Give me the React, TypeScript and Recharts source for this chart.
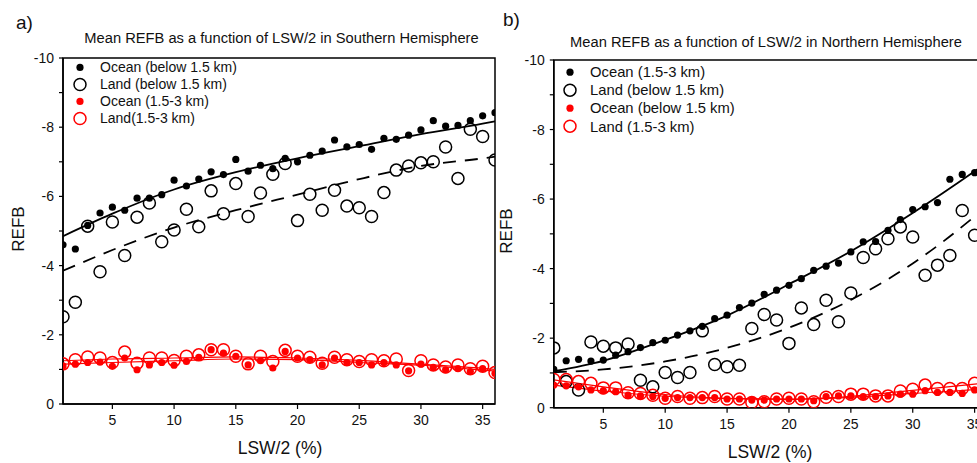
import React from 'react';
import { ComposedChart, Scatter, Line, XAxis, YAxis, Legend, ReferenceArea } from 'recharts';

const FONT = '"Liberation Sans", Arial, sans-serif';

// LSW/2 (%) bins
const lsw = [1, 2, 3, 4, 5, 6, 7, 8, 9, 10, 11, 12, 13, 14, 15, 16, 17, 18, 19, 20, 21, 22, 23, 24, 25, 26, 27, 28, 29, 30, 31, 32, 33, 34, 35, 36];
// x positions where the fitted curves were read
const fitX = [1, 5, 10, 15, 20, 25, 30, 35, 36];

const xTicks = [5, 10, 15, 20, 25, 30, 35];
const yTicks = [-10, -9, -8, -7, -6, -5, -4, -3, -2, -1, 0];

// a) Southern Hemisphere
const shOceanLow = [-4.6, -4.48, -5.16, -5.52, -5.69, -5.6, -5.95, -5.95, -6.05, -6.47, -6.3, -6.5, -6.71, -6.63, -7.07, -6.73, -6.9, -6.8, -7.1, -7.0, -7.19, -7.31, -7.63, -7.43, -7.5, -7.36, -7.68, -7.65, -7.77, -7.92, -8.19, -8.03, -8.05, -8.19, -8.33, -8.42];
const shLandLow = [-2.52, -2.94, -5.14, -3.82, -5.26, -4.29, -5.4, -5.81, -4.69, -5.03, -5.63, -5.12, -6.16, -5.5, -6.37, -5.42, -6.1, -6.64, -6.95, -5.3, -6.06, -5.6, -6.18, -5.72, -5.67, -5.42, -6.11, -6.76, -6.88, -6.97, -7.0, -7.43, -6.52, -7.94, -7.73, -7.05];
const shOceanMid = [-1.1, -1.15, -1.2, -1.21, -1.09, -1.33, -0.99, -1.13, -1.2, -1.12, -1.23, -1.35, -1.57, -1.47, -1.38, -1.13, -1.25, -1.04, -1.52, -1.33, -1.28, -1.13, -1.33, -1.2, -1.2, -1.13, -1.2, -1.13, -0.96, -1.15, -1.06, -0.99, -1.02, -0.94, -1.02, -0.88];
const shLandMid = [-1.16, -1.28, -1.36, -1.33, -1.2, -1.5, -1.18, -1.33, -1.33, -1.26, -1.38, -1.42, -1.57, -1.57, -1.38, -1.16, -1.38, -1.23, -1.55, -1.38, -1.35, -1.18, -1.35, -1.28, -1.23, -1.28, -1.25, -1.3, -0.97, -1.25, -1.13, -1.07, -1.13, -1.02, -1.09, -0.91];
const shFitOceanLow = [-4.85, -5.5, -6.2, -6.7, -7.1, -7.45, -7.8, -8.1, -8.17];
const shFitLandLow = [-3.85, -4.45, -5.1, -5.6, -6.05, -6.5, -6.88, -7.1, -7.15];
const shFitOceanMid = [-1.15, -1.2, -1.25, -1.3, -1.28, -1.2, -1.12, -0.98, -0.95];
const shFitLandMid = [-1.25, -1.3, -1.33, -1.36, -1.33, -1.26, -1.15, -1.03, -1.0];

// b) Northern Hemisphere
const nhOceanMid = [-1.1, -1.35, -1.39, -1.34, -1.37, -1.51, -1.61, -1.73, -1.87, -1.94, -2.09, -2.21, -2.34, -2.56, -2.66, -2.88, -3.01, -3.26, -3.38, -3.52, -3.71, -3.95, -4.07, -4.16, -4.48, -4.77, -4.78, -5.1, -5.41, -5.7, -5.78, -5.9, -6.57, -6.71, -6.76, -6.9];
const nhLandLow = [-1.72, -0.75, -0.51, -1.89, -1.77, -1.72, -1.83, -0.79, -0.6, -1.01, -0.87, -1.01, -2.21, -1.24, -1.18, -1.22, -2.28, -2.68, -2.52, -1.85, -2.87, -2.39, -3.09, -2.47, -3.3, -4.32, -4.57, -4.86, -5.2, -4.91, -3.81, -4.1, -4.38, -5.67, -4.96, -5.3];
const nhOceanLow = [-0.65, -0.63, -0.6, -0.51, -0.49, -0.46, -0.36, -0.34, -0.32, -0.27, -0.29, -0.29, -0.29, -0.29, -0.25, -0.25, -0.22, -0.22, -0.25, -0.25, -0.25, -0.2, -0.32, -0.34, -0.34, -0.32, -0.32, -0.34, -0.39, -0.39, -0.49, -0.44, -0.44, -0.41, -0.51, -0.55];
const nhLandMid = [-0.81, -0.81, -0.75, -0.7, -0.57, -0.57, -0.43, -0.41, -0.36, -0.27, -0.32, -0.27, -0.29, -0.32, -0.25, -0.25, -0.15, -0.17, -0.25, -0.27, -0.25, -0.17, -0.3, -0.32, -0.39, -0.39, -0.34, -0.34, -0.48, -0.53, -0.65, -0.55, -0.55, -0.55, -0.7, -0.7];
const nhFitOceanMid = [-1.05, -1.35, -1.95, -2.65, -3.55, -4.5, -5.6, -6.8, -7.05];
const nhFitLandLow = [-1.02, -1.1, -1.33, -1.72, -2.3, -3.1, -4.15, -5.5, -5.8];
const nhFitOceanLow = [-0.65, -0.48, -0.33, -0.26, -0.24, -0.3, -0.41, -0.52, -0.55];
const nhFitLandMid = [-0.8, -0.6, -0.38, -0.27, -0.25, -0.33, -0.5, -0.68, -0.72];

type Series = { name: string; values: number[]; color: string; filled: boolean };
type Fit = { values: number[]; color: string; width: number; dashed?: boolean };

const toPoints = (xs: number[], ys: number[]) => xs.map((x, i) => ({ x, y: ys[i] }));

const markerShape = (color: string, filled: boolean) => (props: any) =>
    filled
        ? <circle cx={props.cx} cy={props.cy} r={3.6} fill={color} />
        : <circle cx={props.cx} cy={props.cy} r={6} fill="none" stroke={color} strokeWidth={1.5} />;

const LegendBox = ({ items, rowH, fontSize }: { items: Series[]; rowH: number; fontSize: number }) => (
    <div style={{ fontFamily: FONT, color: '#111' }}>
        {items.map((s) => (
            <div key={s.name} style={{ display: 'flex', alignItems: 'center', height: rowH }}>
                <svg width={20} height={rowH} style={{ display: 'block' }}>
                    {s.filled
                        ? <circle cx={8} cy={rowH / 2} r={3.6} fill={s.color} />
                        : <circle cx={8} cy={rowH / 2} r={6} fill="none" stroke={s.color} strokeWidth={1.5} />}
                </svg>
                <span style={{ fontSize, marginLeft: 8, whiteSpace: 'nowrap' }}>{s.name}</span>
            </div>
        ))}
    </div>
);

type PanelProps = {
    left: number;
    width: number;
    margin: { top: number; right: number; bottom: number; left: number };
    series: Series[];
    fits: Fit[];
    legendTop: number;
    rowH: number;
    legendFont: number;
};

const Panel = ({ left, width, margin, series, fits, legendTop, rowH, legendFont }: PanelProps) => (
    <div style={{ position: 'absolute', left, top: 0 }}>
        <ComposedChart width={width} height={463} margin={margin}>
            <XAxis
                type="number"
                dataKey="x"
                domain={[1, 36]}
                allowDataOverflow
                ticks={xTicks}
                interval={0}
                height={30}
                tickSize={5}
                tickMargin={6}
                axisLine={{ stroke: '#000', strokeWidth: 1.5 }}
                tickLine={{ stroke: '#000', strokeWidth: 1.2 }}
                tick={{ fill: '#111', fontSize: 14, fontFamily: FONT }}
            />
            <YAxis
                type="number"
                dataKey="y"
                domain={[-10, 0]}
                reversed
                allowDataOverflow
                ticks={yTicks}
                interval={0}
                width={40}
                tickSize={4}
                tickMargin={5}
                tickFormatter={(v: number) => (v % 2 === 0 ? String(v) : '')}
                axisLine={{ stroke: '#000', strokeWidth: 1.5 }}
                tickLine={{ stroke: '#000', strokeWidth: 1.2 }}
                tick={{ fill: '#111', fontSize: 14, fontFamily: FONT }}
            />
            <ReferenceArea x1={1} x2={36} y1={-10} y2={0} fill="none" stroke="#000" strokeWidth={1.5} />
            {series.map((s) => (
                <Scatter
                    key={s.name}
                    name={s.name}
                    data={toPoints(lsw, s.values)}
                    fill={s.color}
                    shape={markerShape(s.color, s.filled)}
                    isAnimationActive={false}
                />
            ))}
            {fits.map((f, i) => (
                <Line
                    key={`fit-${i}`}
                    data={toPoints(fitX, f.values)}
                    dataKey="y"
                    type="monotone"
                    stroke={f.color}
                    strokeWidth={f.width}
                    strokeDasharray={f.dashed ? '13 9' : undefined}
                    dot={false}
                    activeDot={false}
                    legendType="none"
                    isAnimationActive={false}
                />
            ))}
            <Legend
                layout="vertical"
                align="center"
                verticalAlign="middle"
                wrapperStyle={{ left: 72, top: legendTop, width: 260 }}
                content={() => <LegendBox items={series} rowH={rowH} fontSize={legendFont} />}
            />
        </ComposedChart>
    </div>
);

const Txt = ({ x, y, size, children, center = false }: any) => (
    <div style={{
        position: 'absolute', left: x, top: y, fontSize: size, lineHeight: `${size}px`,
        whiteSpace: 'nowrap', transform: center ? 'translateX(-50%)' : undefined, color: '#111',
    }}>{children}</div>
);

const VTxt = ({ x, y, size, children }: any) => (
    <div style={{
        position: 'absolute', left: x, top: y, fontSize: size, lineHeight: `${size}px`,
        whiteSpace: 'nowrap', transform: 'translate(-50%, -50%) rotate(-90deg)', color: '#111',
    }}>{children}</div>
);

const southSeries: Series[] = [
    { name: 'Ocean (below 1.5 km)', values: shOceanLow, color: '#000', filled: true },
    { name: 'Land (below 1.5 km)', values: shLandLow, color: '#000', filled: false },
    { name: 'Ocean (1.5-3 km)', values: shOceanMid, color: '#ff0000', filled: true },
    { name: 'Land(1.5-3 km)', values: shLandMid, color: '#ff0000', filled: false },
];
const southFits: Fit[] = [
    { values: shFitOceanLow, color: '#000', width: 1.8 },
    { values: shFitLandLow, color: '#000', width: 1.8, dashed: true },
    { values: shFitOceanMid, color: '#ff0000', width: 1.2 },
    { values: shFitLandMid, color: '#ff0000', width: 1.2 },
];

const northSeries: Series[] = [
    { name: 'Ocean (1.5-3 km)', values: nhOceanMid, color: '#000', filled: true },
    { name: 'Land (below 1.5 km)', values: nhLandLow, color: '#000', filled: false },
    { name: 'Ocean (below 1.5 km)', values: nhOceanLow, color: '#ff0000', filled: true },
    { name: 'Land (1.5-3 km)', values: nhLandMid, color: '#ff0000', filled: false },
];
const northFits: Fit[] = [
    { values: nhFitOceanMid, color: '#000', width: 1.8 },
    { values: nhFitLandLow, color: '#000', width: 1.8, dashed: true },
    { values: nhFitOceanLow, color: '#ff0000', width: 1.2 },
    { values: nhFitLandMid, color: '#ff0000', width: 1.2 },
];

export default function App() {
    return (
        <div style={{
            position: 'absolute', left: 0, top: 0, width: 977, height: 463,
            overflow: 'hidden', background: '#fff', fontFamily: FONT,
        }}>
            <Panel
                left={0}
                width={500}
                margin={{ top: 58, right: 5, bottom: 29, left: 23 }}
                series={southSeries}
                fits={southFits}
                legendTop={59}
                rowH={16.9}
                legendFont={14}
            />
            <Panel
                left={490}
                width={520}
                margin={{ top: 60, right: 23, bottom: 25.3, left: 23.8 }}
                series={northSeries}
                fits={northFits}
                legendTop={62.5}
                rowH={18.3}
                legendFont={14.8}
            />

            <Txt x={16} y={13} size={19}>a)</Txt>
            <Txt x={503} y={10} size={19}>b)</Txt>
            <Txt x={281.5} y={31} size={14.7} center>Mean REFB as a function of LSW/2 in Southern Hemisphere</Txt>
            <Txt x={766} y={35.3} size={14.7} center>Mean REFB as a function of LSW/2 in Northern Hemisphere</Txt>
            <VTxt x={18} y={229} size={17}>REFB</VTxt>
            <VTxt x={505.5} y={231} size={17}>REFB</VTxt>
            <Txt x={280} y={440} size={17.5} center>LSW/2 (%)</Txt>
            <Txt x={770} y={444} size={17.5} center>LSW/2 (%)</Txt>
        </div>
    );
}
